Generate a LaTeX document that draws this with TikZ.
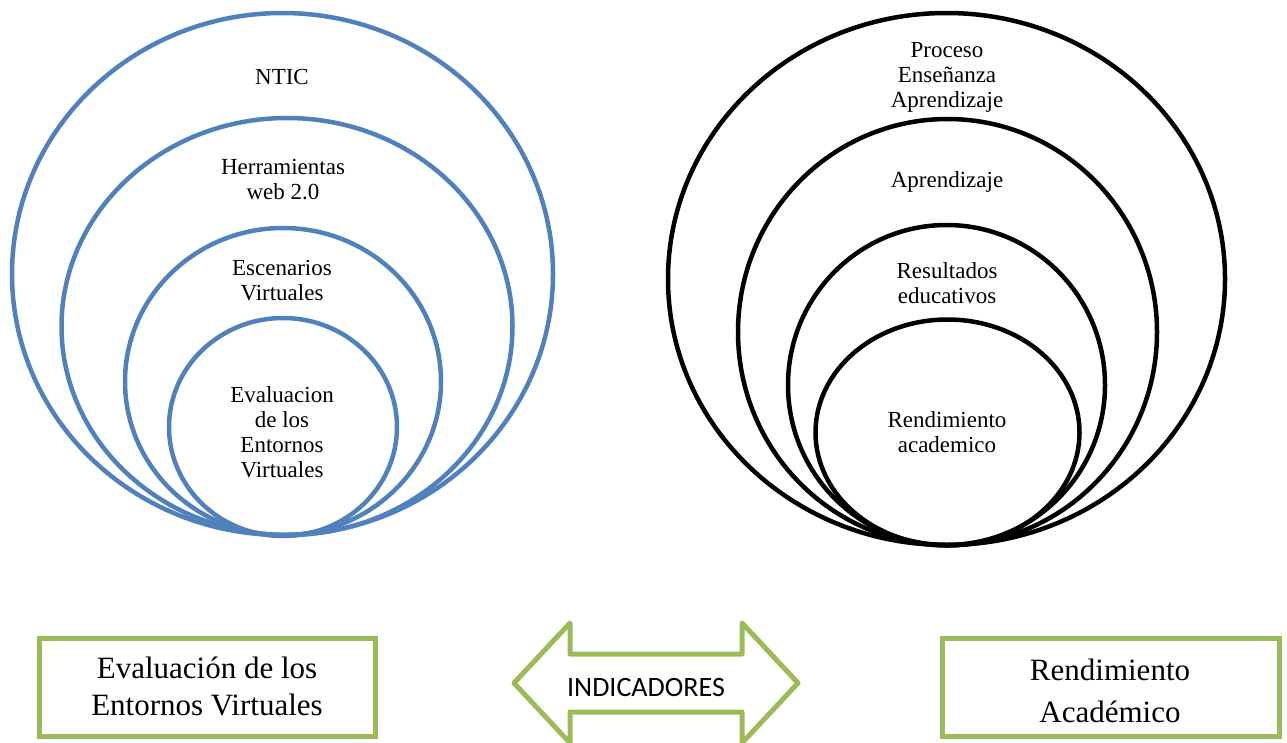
\documentclass[tikz,border=0pt]{standalone}
\usepackage{fontspec}
\setmainfont{Liberation Serif}
\newfontfamily\calib{Carlito}
\usetikzlibrary{shapes.geometric}
\definecolor{ringblue}{HTML}{4F81BD}
\definecolor{boxgreen}{HTML}{9BBB59}
\tikzset{
  ring/.style={ellipse, draw, line width=4.5pt, inner sep=0pt, outer sep=0pt},
  bluering/.style={ring, draw=ringblue},
  blackring/.style={ring, draw=black},
  ringtext/.style={align=center, font=\fontsize{23}{25}\selectfont, inner sep=0pt},
  greenbox/.style={draw=boxgreen, line width=5pt, inner sep=0pt, outer sep=0pt},
  boxtext/.style={align=center, inner sep=0pt},
}
\begin{document}
\begin{tikzpicture}[x=1pt,y=-1pt]
\path[use as bounding box] (0,0) rectangle (1287,742);
% left rings
\node[bluering, minimum width=541pt, minimum height=522pt] (L1) at (282.5,274) {};
\node[bluering, minimum width=451pt, minimum height=417pt] (L2) at (287,326.5) {};
\node[bluering, minimum width=316pt, minimum height=307pt] (L3) at (283,381.5) {};
\node[bluering, minimum width=228pt, minimum height=218pt] (L4) at (283,427) {};
\node[ringtext] (tL1) at (282,77) {NTIC};
\node[ringtext] (tL2) at (283,180) {Herramientas\\web 2.0};
\node[ringtext] (tL3) at (282,281) {Escenarios\\Virtuales};
\node[ringtext] (tL4) at (282,432) {Evaluacion\\de los\\Entornos\\Virtuales};
% right rings
\node[blackring, minimum width=557pt, minimum height=532pt] (R1) at (946.5,279) {};
\node[blackring, minimum width=419pt, minimum height=426pt] (R2) at (947.5,332) {};
\node[blackring, minimum width=317pt, minimum height=320pt] (R3) at (946.5,385) {};
\node[blackring, minimum width=264pt, minimum height=226pt] (R4) at (947.5,432.5) {};
\node[ringtext] (tR1) at (947,77) {Proceso\\Ense\~nanza\\Aprendizaje};
\node[ringtext] (tR2) at (947,182) {Aprendizaje};
\node[ringtext] (tR3) at (947,283) {Resultados\\educativos};
\node[ringtext] (tR4) at (947,432) {Rendimiento\\academico};
% bottom boxes
\node[greenbox, minimum width=336pt, minimum height=98pt] (BL) at (207,687) {};
\node[boxtext, font=\fontsize{31}{37}\selectfont] (tBL) at (207,686) {Evaluaci\'on de los\\Entornos Virtuales};
\node[greenbox, minimum width=337pt, minimum height=98pt] (BR) at (1110.5,687) {};
\node[boxtext, font=\fontsize{31}{42}\selectfont] (tBR) at (1110,691) {Rendimiento\\Acad\'emico};
% double arrow
\draw[draw=boxgreen, line width=5pt, line join=round]
  (514,683) -- (570,623) -- (570,654) -- (742,654) -- (742,623) -- (798,683)
  -- (742,743) -- (742,712) -- (570,712) -- (570,743) -- cycle;
\node[boxtext, font=\calib\fontsize{28}{30}\selectfont] (tA) at (646,687) {INDICADORES};
\end{tikzpicture}
\end{document}
